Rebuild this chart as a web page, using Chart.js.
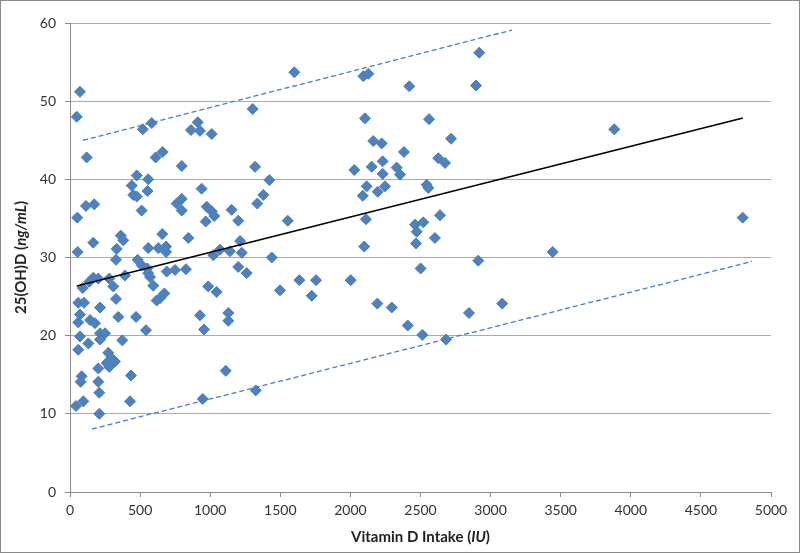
<!DOCTYPE html>
<html>
<head>
<meta charset="utf-8">
<script src="https://cdn.jsdelivr.net/npm/chart.js@4/dist/chart.umd.min.js"></script>
<style>
  html, body { margin: 0; padding: 0; background: #fff; }
  #wrap { width: 800px; height: 553px; }
</style>
</head>
<body>
<div id="wrap"><canvas id="grafico" width="800" height="553"></canvas></div>
<script>
// vitamin D intake (IU) for each subject
const intake = [
  71, 48, 119, 519, 583, 611, 661, 476, 558, 440, 553, 797, 863, 911, 927, 1011, 939, 1303, 1320,
  451, 476, 114, 173, 52, 511, 761, 797, 797, 975, 1011, 1029, 968, 1153, 1200, 1336,
  362, 380, 166, 55, 333, 328, 483, 558, 658, 630, 685, 685, 844,
  511, 551, 571, 558, 690, 749, 827, 392, 280, 202, 166, 138, 309, 91,
  594, 673, 642, 618, 328, 59, 100, 214, 71, 344, 471,
  986, 1046, 927, 1129, 1022, 1070, 1141, 1213, 1225, 1200, 1260,
  59, 143, 178, 542, 956, 1129, 71, 131, 59, 214, 250, 214, 373,
  273, 297, 321, 262, 280, 202, 435, 83, 76, 202, 209, 1111, 43, 95, 428, 209, 947, 1325,
  1600, 2092, 2128, 2420, 2104, 2561, 2163, 2223, 2382, 2627, 2675, 2718,
  1422, 2028, 2152, 2230, 2330, 2354, 2230, 2116, 2088, 2195, 2247, 2544, 2556, 1379, 1553, 2111, 2639, 2520,
  2099, 2461, 2473, 2468, 2603, 1439, 1498, 1636, 1755, 1724, 2002, 2501,
  2192, 2295, 2409, 2513, 2682, 2919, 2896, 3882, 2912, 3443, 2846, 3083, 4798
];

// serum 25(OH)D (ng/mL), same order
const level = [
  51.2, 48.0, 42.8, 46.4, 47.2, 42.8, 43.5, 40.5, 40.0, 39.2, 38.5, 41.7, 46.3, 47.3, 46.2, 45.8, 38.8, 49.0, 41.6,
  38.0, 37.8, 36.6, 36.8, 35.1, 36.0, 36.9, 37.5, 36.0, 36.5, 35.9, 35.3, 34.6, 36.1, 34.7, 36.9,
  32.8, 32.2, 31.9, 30.7, 31.1, 29.7, 29.7, 31.2, 33.0, 31.2, 30.7, 31.4, 32.5,
  29.0, 28.6, 27.5, 28.0, 28.2, 28.4, 28.5, 27.7, 27.3, 27.3, 27.4, 26.9, 26.3, 26.1,
  26.4, 25.4, 24.8, 24.5, 24.7, 24.2, 24.2, 23.6, 22.7, 22.4, 22.4,
  26.3, 25.6, 22.6, 22.9, 30.3, 31.0, 30.8, 32.1, 30.6, 28.8, 28.0,
  21.7, 22.0, 21.6, 20.7, 20.8, 21.9, 19.9, 19.0, 18.2, 20.3, 20.3, 19.5, 19.4,
  17.8, 17.1, 16.7, 16.5, 16.0, 15.8, 14.9, 14.8, 14.1, 14.1, 12.7, 15.5, 11.0, 11.6, 11.6, 10.0, 11.9, 13.0,
  53.7, 53.2, 53.5, 51.9, 47.8, 47.7, 44.9, 44.6, 43.5, 42.7, 42.1, 45.2,
  39.9, 41.2, 41.6, 42.3, 41.5, 40.6, 40.7, 39.1, 37.9, 38.4, 39.1, 39.3, 38.9, 38.0, 34.7, 34.9, 35.4, 34.5,
  31.4, 34.2, 33.3, 31.8, 32.5, 30.0, 25.8, 27.1, 27.1, 25.1, 27.1, 28.6,
  24.1, 23.6, 21.3, 20.1, 19.5, 56.2, 52.0, 46.4, 29.6, 30.7, 22.9, 24.1, 35.1
];

// regression line and the two dashed bounds (end points)
const fitX = [48, 4800];
const fitY = [26.35, 47.85];
const upperX = [93, 3153];
const upperY = [45.0, 59.1];
const lowerX = [157, 4864];
const lowerY = [8.06, 29.5];

const xTicks = [0, 500, 1000, 1500, 2000, 2500, 3000, 3500, 4000, 4500, 5000];
const yTicks = [0, 10, 20, 30, 40, 50, 60];

const zip = (xs, ys) => xs.map((x, i) => ({ x: x, y: ys[i] }));

const FONT = "Lato, 'Open Sans', 'DejaVu Sans', sans-serif";

// draws a string made of pieces with different font styles, centred on (cx, cy)
function drawParts(ctx, parts, cx, cy) {
  let total = 0;
  parts.forEach(p => { ctx.font = p[1] + " 15px " + FONT; total += ctx.measureText(p[0]).width; });
  let x = cx - total / 2;
  ctx.textAlign = "left";
  ctx.textBaseline = "middle";
  parts.forEach(p => {
    ctx.font = p[1] + " 15px " + FONT;
    ctx.fillText(p[0], x, cy);
    x += ctx.measureText(p[0]).width;
  });
}

const marco = {
  id: "marco",
  beforeDraw(chart) {
    const ctx = chart.ctx;
    ctx.save();
    ctx.fillStyle = "#fff";
    ctx.fillRect(0, 0, chart.width, chart.height);
    ctx.strokeStyle = "#8a8a8a";
    ctx.lineWidth = 1;
    ctx.strokeRect(0.5, 0.5, chart.width - 1, chart.height - 1);
    ctx.restore();
  },
  afterDraw(chart) {
    const ctx = chart.ctx;
    const a = chart.chartArea;
    ctx.save();
    ctx.fillStyle = "#222";
    drawParts(ctx, [["Vitamin D Intake (", "bold"], ["IU", "italic bold"], [")", "bold"]],
      (a.left + a.right) / 2, 537);
    ctx.translate(21, (a.top + a.bottom) / 2);
    ctx.rotate(-Math.PI / 2);
    drawParts(ctx, [["25(OH)D (", "bold"], ["ng/mL", "italic bold"], [")", "bold"]], 0, 0);
    ctx.restore();
  }
};

new Chart(document.getElementById("grafico"), {
  type: "scatter",
  data: {
    datasets: [
      {
        data: zip(fitX, fitY),
        showLine: true,
        borderColor: "#000",
        borderWidth: 1.5,
        pointRadius: 0
      },
      {
        data: zip(upperX, upperY),
        showLine: true,
        borderColor: "#4A7EBB",
        borderWidth: 1.3,
        borderDash: [5, 3],
        pointRadius: 0
      },
      {
        data: zip(lowerX, lowerY),
        showLine: true,
        borderColor: "#4A7EBB",
        borderWidth: 1.3,
        borderDash: [5, 3],
        pointRadius: 0
      },
      {
        data: zip(intake, level),
        pointStyle: "rectRot",
        pointRadius: 5.5,
        backgroundColor: "#4F81BD",
        borderColor: "#4A7EBB",
        borderWidth: 1
      }
    ]
  },
  options: {
    responsive: false,
    animation: false,
    events: [],
    layout: { padding: { top: 23, right: 29, left: 0, bottom: 0 } },
    plugins: { legend: { display: false }, tooltip: { enabled: false } },
    scales: {
      x: {
        type: "linear",
        min: 0,
        max: 5000,
        afterBuildTicks: s => { s.ticks = xTicks.map(v => ({ value: v })); },
        afterFit: s => { s.height = 61; },
        border: { color: "#8a8a8a", width: 1 },
        grid: { display: true, drawOnChartArea: false, drawTicks: true, tickLength: 5, color: "#8a8a8a" },
        ticks: { color: "#333", padding: 5, font: { family: FONT, size: 14 }, maxRotation: 0, callback: v => String(v) }
      },
      y: {
        type: "linear",
        min: 0,
        max: 60,
        afterBuildTicks: s => { s.ticks = yTicks.map(v => ({ value: v })); },
        afterFit: s => { s.width = 70; },
        border: { color: "#8a8a8a", width: 1 },
        grid: { color: "#ababab", tickLength: 5, tickColor: "#8a8a8a" },
        ticks: { color: "#333", padding: 9, font: { family: FONT, size: 14 }, callback: v => String(v) }
      }
    }
  },
  plugins: [marco]
});
</script>
</body>
</html>
